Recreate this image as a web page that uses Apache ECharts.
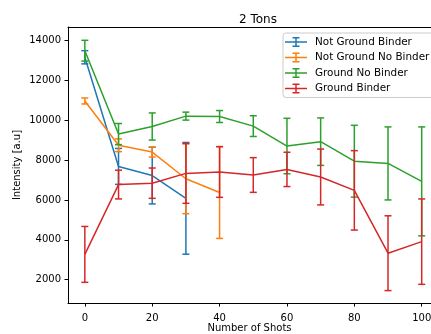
<!DOCTYPE html>
<html>
<head>
<meta charset="utf-8">
<script src="https://cdn.jsdelivr.net/npm/echarts@6/dist/echarts.min.js"></script>
<style>html,body{margin:0;padding:0;background:#fff;}#c{width:431px;height:334px;}</style>
</head>
<body>
<div id="c"></div>
<script>
const shots = [0, 10, 20, 30, 40, 50, 60, 70, 80, 90, 100];
const xTicks = [0, 20, 40, 60, 80, 100];
const yTicks = [2000, 4000, 6000, 8000, 10000, 12000, 14000];

const notGroundBinder = [13150, 7680, 7220, 6080];
const notGroundBinderErr = [330, 900, 1420, 2800];
const notGroundNoBinder = [10960, 8740, 8400, 7060, 6370];
const notGroundNoBinderErr = [150, 320, 250, 1750, 2300];
const groundNoBinder = [13480, 9300, 9680, 10200, 10180, 9700, 8700, 8920, 7940, 7830, 6930];
const groundNoBinderErr = [520, 530, 680, 200, 300, 520, 1390, 1190, 1800, 1830, 2730];
const groundBinder = [3270, 6770, 6840, 7330, 7400, 7250, 7530, 7150, 6480, 3330, 3910];
const groundBinderErr = [1400, 720, 760, 1500, 1270, 870, 860, 1400, 1990, 1875, 2140];

const names = ['Not Ground Binder', 'Not Ground No Binder', 'Ground No Binder', 'Ground Binder'];
const colors = ['#1f77b4', '#ff7f0e', '#2ca02c', '#d62728'];
const values = [notGroundBinder, notGroundNoBinder, groundNoBinder, groundBinder];
const errs = [notGroundBinderErr, notGroundNoBinderErr, groundNoBinderErr, groundBinderErr];

const FONT = 'DejaVu Sans';
const series = [];
values.forEach((vals, i) => {
  const lineData = vals.map((v, k) => [shots[k], v]);
  const errData = vals.map((v, k) => [shots[k], v - errs[i][k], v + errs[i][k]]);
  series.push({
    name: names[i], type: 'line', data: lineData, symbol: 'none',
    lineStyle: { color: colors[i], width: 1.5 }, itemStyle: { color: colors[i] },
    z: 10 + i * 2, animation: false, silent: true
  });
  series.push({
    name: names[i], type: 'custom', data: errData, z: 11 + i * 2, animation: false, silent: true,
    itemStyle: { color: colors[i] },
    renderItem: function (params, api) {
      const lo = api.coord([api.value(0), api.value(1)]);
      const hi = api.coord([api.value(0), api.value(2)]);
      const cw = 3.5;
      const st = { stroke: colors[i], lineWidth: 1.5 };
      return {
        type: 'group',
        children: [
          { type: 'line', shape: { x1: lo[0], y1: lo[1], x2: hi[0], y2: hi[1] }, style: st },
          { type: 'line', shape: { x1: lo[0] - cw, y1: lo[1], x2: lo[0] + cw, y2: lo[1] }, style: st },
          { type: 'line', shape: { x1: hi[0] - cw, y1: hi[1], x2: hi[0] + cw, y2: hi[1] }, style: st }
        ]
      };
    }
  });
});

const icon = 'path://M0,4.25 L22,4.25 L22,5.75 L0,5.75 Z M10.25,0 L11.75,0 L11.75,10 L10.25,10 Z M7.5,0 L14.5,0 L14.5,1.5 L7.5,1.5 Z M7.5,8.5 L14.5,8.5 L14.5,10 L7.5,10 Z';

const chart = echarts.init(document.getElementById('c'), null, { renderer: 'canvas' });
chart.setOption({
  animation: false,
  backgroundColor: '#fff',
  title: {
    text: '2 Tons', left: 253, top: 9, textAlign: 'center',
    textStyle: { fontFamily: FONT, fontSize: 12, fontWeight: 'normal', color: '#000' }
  },
  legend: {
    data: names.map(n => ({ name: n, icon: icon })),
    orient: 'vertical', left: 283, top: 33,
    itemWidth: 22, itemHeight: 10, itemGap: 5.5,
    padding: [4, 14, 4, 2],
    backgroundColor: 'rgba(255,255,255,0.8)', borderColor: '#cccccc', borderWidth: 1, borderRadius: 3,
    itemStyle: { borderWidth: 0 },
    textStyle: { fontFamily: FONT, fontSize: 10.4, color: '#000', padding: [0, 0, 0, 3] },
    selectedMode: false
  },
  grid: { left: 68, right: 0, top: 27, bottom: 31, show: false, outerBoundsMode: 'none', containLabel: false },
  xAxis: [{
    type: 'value', min: -5, max: 102.76,
    name: 'Number of Shots', nameLocation: 'middle', nameGap: 25, nameMoveOverlap: false,
    nameTextStyle: { fontFamily: FONT, fontSize: 10, color: '#000', verticalAlign: 'middle' },
    axisLine: { show: true, onZero: false, lineStyle: { color: '#000', width: 1 } },
    axisTick: { show: true, length: 3.5, lineStyle: { color: '#000' }, customValues: xTicks },
    axisLabel: { fontFamily: FONT, fontSize: 10, color: '#000', margin: 10, customValues: xTicks },
    splitLine: { show: false }
  }, {
    type: 'value', min: -5, max: 102.76, position: 'top',
    axisLine: { show: true, onZero: false, lineStyle: { color: '#000', width: 1 } },
    axisTick: { show: false }, axisLabel: { show: false }, splitLine: { show: false }
  }],
  yAxis: {
    type: 'value', min: 834, max: 14667,
    name: 'Intensity [a.u]', nameLocation: 'middle', nameGap: 51, nameMoveOverlap: false,
    nameTextStyle: { fontFamily: FONT, fontSize: 10, color: '#000', verticalAlign: 'middle' },
    axisLine: { show: true, onZero: false, lineStyle: { color: '#000', width: 1 } },
    axisTick: { show: true, length: 3.5, lineStyle: { color: '#000' }, customValues: yTicks },
    axisLabel: { fontFamily: FONT, fontSize: 10, color: '#000', margin: 7, customValues: yTicks, formatter: v => String(v) },
    splitLine: { show: false }
  },
  series: series
});
</script>
</body>
</html>
